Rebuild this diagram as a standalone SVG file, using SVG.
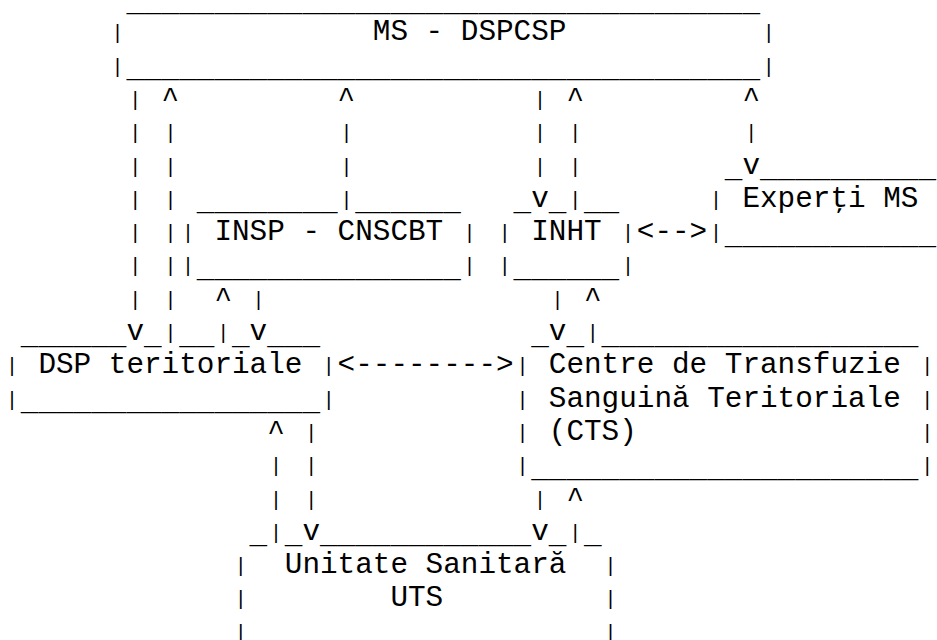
<svg xmlns="http://www.w3.org/2000/svg" width="937" height="640" viewBox="0 0 937 640" xml:space="preserve">
<style>
.t{font-family:"Liberation Mono","Courier New",monospace;font-size:29.333px;fill:#000;}
.b{font-family:"Liberation Mono","Courier New",monospace;font-size:20px;fill:#000;}
</style>
<rect width="937" height="640" fill="#fff"/>
<g id="connectors">
<text class="b"><tspan x="129.2" y="105.9">|</tspan><tspan x="129.2" y="139.2">|</tspan><tspan x="129.2" y="172.5">|</tspan><tspan x="129.2" y="205.8">|</tspan><tspan x="129.2" y="239.1">|</tspan><tspan x="129.2" y="272.4">|</tspan><tspan x="129.2" y="305.7">|</tspan></text>
<text class="t" x="126.4" y="340">v</text>
<text class="t" x="161.6" y="106.9">^</text>
<text class="b"><tspan x="164.4" y="139.2">|</tspan><tspan x="164.4" y="172.5">|</tspan><tspan x="164.4" y="205.8">|</tspan><tspan x="164.4" y="239.1">|</tspan><tspan x="164.4" y="272.4">|</tspan><tspan x="164.4" y="305.7">|</tspan><tspan x="164.4" y="339">|</tspan></text>
<text class="t" x="337.6" y="106.9">^</text>
<text class="b"><tspan x="340.4" y="139.2">|</tspan><tspan x="340.4" y="172.5">|</tspan><tspan x="340.4" y="205.8">|</tspan></text>
<text class="t" x="214.4" y="306.7">^</text>
<text class="b" x="217.2" y="339">|</text>
<text class="b" x="252.4" y="305.7">|</text>
<text class="t" x="249.6" y="340">v</text>
<text class="b"><tspan x="534" y="105.9">|</tspan><tspan x="534" y="139.2">|</tspan><tspan x="534" y="172.5">|</tspan></text>
<text class="t" x="531.2" y="206.8">v</text>
<text class="t" x="566.4" y="106.9">^</text>
<text class="b"><tspan x="569.2" y="139.2">|</tspan><tspan x="569.2" y="172.5">|</tspan><tspan x="569.2" y="205.8">|</tspan></text>
<text class="t" x="742.4" y="106.9">^</text>
<text class="b" x="745.2" y="139.2">|</text>
<text class="t" x="742.4" y="173.5">v</text>
<text class="t" x="636.8" y="240.1">&lt;--&gt;</text>
<text class="b" x="551.6" y="305.7">|</text>
<text class="t" x="548.8" y="340">v</text>
<text class="t" x="584" y="306.7">^</text>
<text class="b" x="586.8" y="339">|</text>
<text class="t" x="337.6" y="373.3">&lt;--------&gt;</text>
<text class="t" x="267.2" y="439.9">^</text>
<text class="b"><tspan x="270" y="472.2">|</tspan><tspan x="270" y="505.5">|</tspan><tspan x="270" y="538.8">|</tspan></text>
<text class="b"><tspan x="305.2" y="438.9">|</tspan><tspan x="305.2" y="472.2">|</tspan><tspan x="305.2" y="505.5">|</tspan></text>
<text class="t" x="302.4" y="539.8">v</text>
<text class="b" x="534" y="505.5">|</text>
<text class="t" x="531.2" y="539.8">v</text>
<text class="t" x="566.4" y="506.5">^</text>
<text class="b" x="569.2" y="538.8">|</text>
</g>
<g id="ms-dspcsp">
<text class="t" x="126.4" y="10.5">____________________________________</text>
<text class="b" x="111.6" y="39.3">|</text>
<text class="t" x="372.8" y="40.3">MS - DSPCSP</text>
<text class="b" x="762.8" y="39.3">|</text>
<text class="b" x="111.6" y="72.6">|</text>
<text class="t" x="126.4" y="77.1">____________________________________</text>
<text class="b" x="762.8" y="72.6">|</text>
</g>
<g id="insp-cnscbt">
<text class="t" x="196.8" y="210.3">________</text>
<text class="t" x="355.2" y="210.3">______</text>
<text class="b" x="182" y="239.1">|</text>
<text class="t" x="214.4" y="240.1">INSP - CNSCBT</text>
<text class="b" x="463.6" y="239.1">|</text>
<text class="b" x="182" y="272.4">|</text>
<text class="t" x="196.8" y="276.9">_______________</text>
<text class="b" x="463.6" y="272.4">|</text>
</g>
<g id="inht">
<text class="t" x="513.6" y="210.3">_</text>
<text class="t" x="548.8" y="210.3">_</text>
<text class="t" x="584" y="210.3">__</text>
<text class="b" x="498.8" y="239.1">|</text>
<text class="t" x="531.2" y="240.1">INHT</text>
<text class="b" x="622" y="239.1">|</text>
<text class="b" x="498.8" y="272.4">|</text>
<text class="t" x="513.6" y="276.9">______</text>
<text class="b" x="622" y="272.4">|</text>
</g>
<g id="experti-ms">
<text class="t" x="724.8" y="177">_</text>
<text class="t" x="760" y="177">__________</text>
<text class="b" x="710" y="205.8">|</text>
<text class="t" x="742.4" y="206.8">Experţi MS</text>
<text class="b" x="710" y="239.1">|</text>
<text class="t" x="724.8" y="243.6">____________</text>
</g>
<g id="dsp-teritoriale">
<text class="t" x="20.8" y="343.5">______</text>
<text class="t" x="144" y="343.5">_</text>
<text class="t" x="179.2" y="343.5">__</text>
<text class="t" x="232" y="343.5">_</text>
<text class="t" x="267.2" y="343.5">___</text>
<text class="b" x="6" y="372.3">|</text>
<text class="t" x="38.4" y="373.3">DSP teritoriale</text>
<text class="b" x="322.8" y="372.3">|</text>
<text class="b" x="6" y="405.6">|</text>
<text class="t" x="20.8" y="410.1">_________________</text>
<text class="b" x="322.8" y="405.6">|</text>
</g>
<g id="cts">
<text class="t" x="531.2" y="343.5">_</text>
<text class="t" x="566.4" y="343.5">_</text>
<text class="t" x="601.6" y="343.5">__________________</text>
<text class="b" x="516.4" y="372.3">|</text>
<text class="t" x="548.8" y="373.3">Centre de Transfuzie</text>
<text class="b" x="921.2" y="372.3">|</text>
<text class="b" x="516.4" y="405.6">|</text>
<text class="t" x="548.8" y="406.6">Sanguină Teritoriale</text>
<text class="b" x="921.2" y="405.6">|</text>
<text class="b" x="516.4" y="438.9">|</text>
<text class="t" x="548.8" y="439.9">(CTS)</text>
<text class="b" x="921.2" y="438.9">|</text>
<text class="b" x="516.4" y="472.2">|</text>
<text class="t" x="531.2" y="476.7">______________________</text>
<text class="b" x="921.2" y="472.2">|</text>
</g>
<g id="uts">
<text class="t" x="249.6" y="543.3">_</text>
<text class="t" x="284.8" y="543.3">_</text>
<text class="t" x="320" y="543.3">____________</text>
<text class="t" x="548.8" y="543.3">_</text>
<text class="t" x="584" y="543.3">_</text>
<text class="b" x="234.8" y="572.1">|</text>
<text class="t" x="284.8" y="573.1">Unitate Sanitară</text>
<text class="b" x="604.4" y="572.1">|</text>
<text class="b" x="234.8" y="605.4">|</text>
<text class="t" x="390.4" y="606.4">UTS</text>
<text class="b" x="604.4" y="605.4">|</text>
<text class="b" x="234.8" y="638.7">|</text>
<text class="b" x="604.4" y="638.7">|</text>
</g>
</svg>
